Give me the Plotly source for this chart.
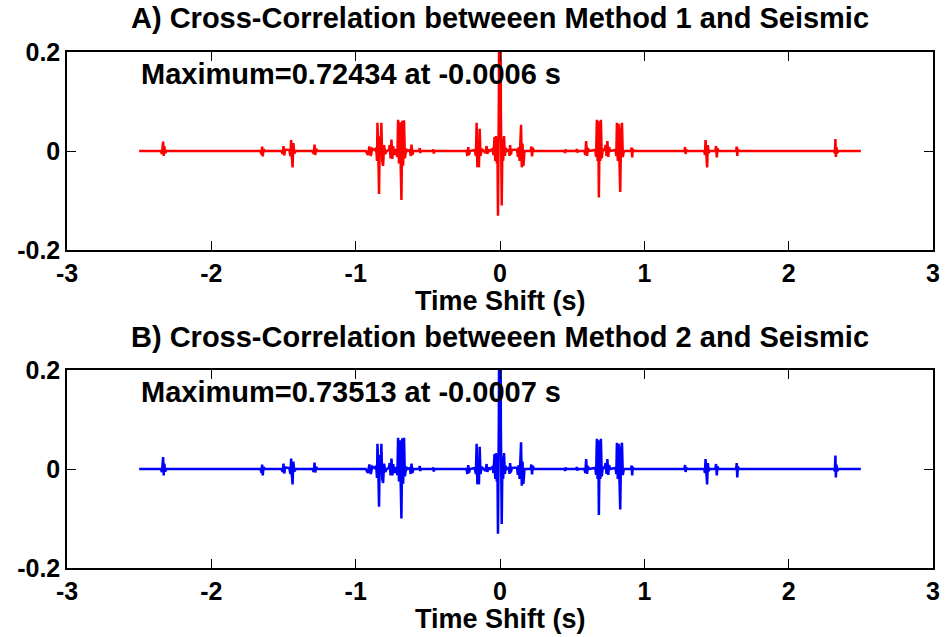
import plotly.graph_objects as go

# ---------------- data ----------------
time_s = [
    -2.500, -2.350,
    -2.342, -2.338, -2.334, -2.330, -2.326, -2.320, -2.310,
    -1.660, -1.652, -1.648, -1.644, -1.638, -1.630,
    -1.515, -1.505, -1.500, -1.495, -1.488, -1.460, -1.452, -1.447, -1.442, -1.437, -1.432, -1.425, -1.415,
    -1.300, -1.290, -1.285, -1.280, -1.274, -1.265,
    -0.930, -0.915, -0.905, -0.895, -0.885, -0.870, -0.858, -0.852, -0.849, -0.844, -0.838, -0.833, -0.827, -0.822, -0.816, -0.810, -0.803, -0.795, -0.785,
    -0.770, -0.764, -0.758, -0.752, -0.746, -0.740, -0.732, -0.724,
    -0.716, -0.711, -0.706, -0.700, -0.694, -0.689, -0.683, -0.677, -0.671, -0.665, -0.659, -0.650, -0.640,
    -0.625, -0.618, -0.613, -0.607, -0.600,
    -0.560, -0.556, -0.552, -0.548, -0.467, -0.463, -0.459, -0.455,
    -0.232, -0.226, -0.220, -0.215, -0.208,
    -0.175, -0.167, -0.162, -0.157, -0.152, -0.146, -0.141, -0.135, -0.126,
    -0.100, -0.093, -0.088, -0.080, -0.070,
    -0.052, -0.045, -0.038, -0.033, -0.028, -0.022, -0.018, -0.014, -0.008, -0.0006, 0.006, 0.012, 0.017, 0.022, 0.028, 0.034, 0.040, 0.048,
    0.062, 0.066, 0.070, 0.075, 0.082,
    0.118, 0.124, 0.130, 0.136, 0.141, 0.146, 0.151, 0.156, 0.162, 0.170,
    0.212, 0.217, 0.222, 0.227, 0.235,
    0.447, 0.451, 0.455, 0.459, 0.528, 0.532, 0.536, 0.540,
    0.585, 0.591, 0.597, 0.603, 0.609, 0.615,
    0.660, 0.666, 0.671, 0.676, 0.681, 0.685, 0.690, 0.695, 0.699, 0.705, 0.712,
    0.725, 0.732, 0.738, 0.744, 0.750, 0.756, 0.762,
    0.800, 0.806, 0.810, 0.816, 0.822, 0.828, 0.833, 0.839, 0.845, 0.851, 0.858,
    0.908, 0.912, 0.916, 0.920, 0.926,
    1.278, 1.282, 1.286, 1.290, 1.296,
    1.415, 1.420, 1.424, 1.429, 1.435, 1.440, 1.446, 1.452,
    1.492, 1.497, 1.502, 1.507, 1.514,
    1.636, 1.640, 1.644, 1.648, 1.654,
    2.315, 2.320, 2.324, 2.327, 2.331, 2.336, 2.345,
    2.500,
]

corr_method1 = [
    0.000, 0.000,
    -0.006, 0.008, 0.019, -0.010, 0.010, -0.004, 0.000,
    0.000, -0.007, 0.009, -0.011, 0.004, 0.000,
    0.000, -0.006, 0.010, -0.009, 0.003, 0.002, -0.010, 0.022, -0.012, -0.033, 0.016, -0.005, 0.000,
    0.000, -0.006, 0.013, -0.008, 0.004, 0.000,
    0.000, -0.008, 0.009, -0.010, 0.005, 0.002, 0.006, -0.020, 0.057, 0.010, -0.087, 0.030, -0.010, 0.057, -0.020, -0.030, 0.012, -0.006, 0.000,
    0.002, 0.012, -0.015, 0.023, -0.016, 0.010, -0.008, 0.004,
    -0.004, -0.012, 0.063, -0.025, 0.058, -0.030, -0.099, 0.061, -0.030, 0.062, -0.015, 0.004, 0.000,
    0.002, -0.010, 0.013, -0.008, 0.000,
    0.000, 0.006, -0.004, 0.000, 0.000, 0.003, -0.005, 0.000,
    0.000, -0.010, 0.008, -0.008, 0.000,
    0.002, -0.010, 0.057, -0.033, 0.020, -0.033, 0.045, -0.010, 0.004,
    -0.004, 0.010, -0.006, 0.003, 0.000,
    0.004, -0.008, 0.028, -0.020, 0.030, -0.025, 0.020, -0.131, 0.100, 0.72434, 0.080, -0.110, 0.025, -0.020, 0.030, -0.010, 0.006, 0.000,
    0.002, -0.010, 0.012, -0.007, 0.002,
    0.003, -0.012, 0.008, -0.020, 0.010, 0.053, -0.033, 0.015, -0.030, 0.000,
    0.000, 0.009, -0.011, 0.006, 0.000,
    0.000, -0.004, 0.003, 0.000, 0.000, 0.004, -0.003, 0.000,
    0.000, -0.008, 0.020, -0.010, 0.006, 0.000,
    0.002, -0.012, 0.063, -0.020, 0.060, -0.094, 0.030, -0.020, 0.063, -0.015, 0.003,
    0.002, 0.012, -0.010, 0.020, -0.012, 0.008, 0.000,
    0.002, -0.010, 0.057, -0.020, 0.055, -0.025, -0.083, 0.040, 0.057, -0.012, 0.000,
    0.000, 0.007, -0.013, 0.004, 0.000,
    0.000, 0.008, -0.006, 0.003, 0.000,
    0.000, -0.008, 0.022, -0.010, -0.033, 0.012, -0.004, 0.000,
    0.000, 0.010, -0.013, 0.005, 0.000,
    0.000, 0.009, -0.010, 0.004, 0.000,
    0.000, -0.005, 0.024, -0.012, 0.008, -0.004, 0.000,
    0.000,
]

corr_method2 = [
    0.000, 0.000,
    -0.006, 0.009, 0.024, -0.013, 0.011, -0.005, 0.000,
    0.000, -0.008, 0.009, -0.013, 0.004, 0.000,
    0.000, -0.006, 0.011, -0.009, 0.003, 0.002, -0.010, 0.021, -0.012, -0.031, 0.015, -0.005, 0.000,
    0.000, -0.006, 0.013, -0.007, 0.004, 0.000,
    0.000, -0.008, 0.009, -0.010, 0.005, 0.002, 0.006, -0.018, 0.051, 0.010, -0.076, 0.028, -0.010, 0.051, -0.020, -0.028, 0.011, -0.006, 0.000,
    0.002, 0.012, -0.013, 0.021, -0.013, 0.010, -0.008, 0.004,
    -0.004, -0.012, 0.063, -0.025, 0.058, -0.030, -0.100, 0.062, -0.030, 0.063, -0.015, 0.004, 0.000,
    0.002, -0.010, 0.011, -0.008, 0.000,
    0.000, 0.006, -0.004, 0.000, 0.000, 0.003, -0.005, 0.000,
    0.000, -0.010, 0.008, -0.008, 0.000,
    0.002, -0.010, 0.051, -0.031, 0.020, -0.031, 0.045, -0.010, 0.004,
    -0.004, 0.010, -0.006, 0.003, 0.000,
    0.004, -0.008, 0.030, -0.020, 0.032, -0.025, 0.020, -0.131, 0.100, 0.73513, 0.080, -0.111, 0.025, -0.020, 0.032, -0.010, 0.006, 0.000,
    0.002, -0.010, 0.012, -0.007, 0.002,
    0.003, -0.012, 0.008, -0.020, 0.010, 0.054, -0.034, 0.015, -0.030, 0.000,
    0.000, 0.009, -0.011, 0.006, 0.000,
    0.000, -0.004, 0.003, 0.000, 0.000, 0.004, -0.003, 0.000,
    0.000, -0.008, 0.020, -0.010, 0.006, 0.000,
    0.002, -0.012, 0.061, -0.020, 0.058, -0.093, 0.030, -0.020, 0.061, -0.015, 0.003,
    0.002, 0.012, -0.010, 0.020, -0.012, 0.008, 0.000,
    0.002, -0.010, 0.053, -0.020, 0.051, -0.025, -0.082, 0.040, 0.053, -0.012, 0.000,
    0.000, 0.007, -0.013, 0.004, 0.000,
    0.000, 0.008, -0.006, 0.003, 0.000,
    0.000, -0.008, 0.020, -0.010, -0.031, 0.012, -0.004, 0.000,
    0.000, 0.010, -0.013, 0.005, 0.000,
    0.000, 0.012, -0.017, 0.005, 0.000,
    0.000, -0.005, 0.027, -0.017, 0.009, -0.004, 0.000,
    0.000,
]

titles = ["A) Cross-Correlation betweeen Method 1 and Seismic",
          "B) Cross-Correlation betweeen Method 2 and Seismic"]
max_labels = ["Maximum=0.72434 at -0.0006 s", "Maximum=0.73513 at -0.0007 s"]
x_label = "Time Shift (s)"
x_ticks = [-3, -2, -1, 0, 1, 2, 3]
x_tick_text = ["-3", "-2", "-1", "0", "1", "2", "3"]
y_ticks = [-0.2, 0, 0.2]
y_tick_text = ["-0.2", "0", "0.2"]

# ---------------- figure ----------------
W, H = 946, 637
FONT = "Liberation Sans, Arial, Helvetica, sans-serif"

fig = go.Figure()
fig.add_trace(go.Scatter(x=time_s, y=corr_method1, mode="lines",
                         line=dict(color="#FF0000", width=2.5), xaxis="x", yaxis="y",
                         showlegend=False))
fig.add_trace(go.Scatter(x=time_s, y=corr_method2, mode="lines",
                         line=dict(color="#0000FF", width=2.5), xaxis="x2", yaxis="y2",
                         showlegend=False))


def py(px):
    return 1 - px / H


axis_common = dict(showline=True, linecolor="black", linewidth=1.5, mirror="allticks",
                   ticks="inside", ticklen=9, tickwidth=1, tickcolor="black",
                   showgrid=False, zeroline=False, automargin=False,
                   tickfont=dict(family=FONT, size=25, color="black", weight="bold"))

xdom = [67 / W, 933 / W]
fig.update_layout(
    width=W, height=H, margin=dict(l=0, r=0, t=0, b=0, pad=0, autoexpand=False),
    showlegend=False,
    paper_bgcolor="white", plot_bgcolor="white",
    xaxis=dict(domain=xdom, range=[-3, 3], tickvals=x_ticks, ticktext=x_tick_text,
               anchor="y", ticklabelstandoff=0, **axis_common),
    yaxis=dict(domain=[py(250), py(52)], range=[-0.2, 0.2], tickvals=y_ticks,
               ticktext=y_tick_text, anchor="x", ticklabelstandoff=0, **axis_common),
    xaxis2=dict(domain=xdom, range=[-3, 3], tickvals=x_ticks, ticktext=x_tick_text,
                anchor="y2", ticklabelstandoff=0, **axis_common),
    yaxis2=dict(domain=[py(568), py(370)], range=[-0.2, 0.2], tickvals=y_ticks,
                ticktext=y_tick_text, anchor="x2", ticklabelstandoff=0, **axis_common),
)

ann_font_big = dict(family=FONT, size=29, color="black", weight="bold")
ann_font_lab = dict(family=FONT, size=27, color="black", weight="bold")
xc = (xdom[0] + xdom[1]) / 2
annotations = [
    dict(text=titles[0], x=xc, y=py(18), xref="paper", yref="paper",
         xanchor="center", yanchor="middle", showarrow=False, font=ann_font_big),
    dict(text=titles[1], x=xc, y=py(337), xref="paper", yref="paper",
         xanchor="center", yanchor="middle", showarrow=False, font=ann_font_big),
    dict(text=x_label, x=xc, y=py(301), xref="paper", yref="paper",
         xanchor="center", yanchor="middle", showarrow=False, font=ann_font_lab),
    dict(text=x_label, x=xc, y=py(619), xref="paper", yref="paper",
         xanchor="center", yanchor="middle", showarrow=False, font=ann_font_lab),
    dict(text=max_labels[0], x=-2.5, y=0.155, xref="x", yref="y",
         xanchor="left", yanchor="middle", showarrow=False, font=ann_font_big),
    dict(text=max_labels[1], x=-2.5, y=0.155, xref="x2", yref="y2",
         xanchor="left", yanchor="middle", showarrow=False, font=ann_font_big),
]
fig.update_layout(annotations=annotations)

fig.write_html("out.html")
